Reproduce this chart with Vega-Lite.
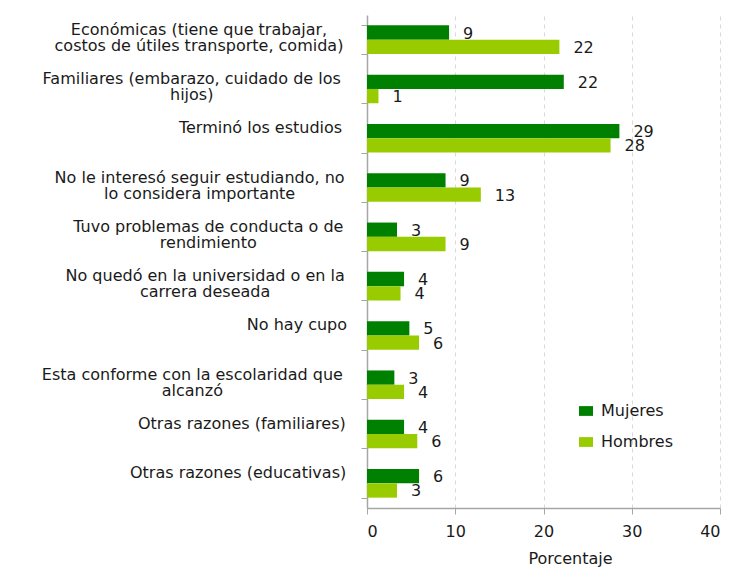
{
  "$schema": "https://vega.github.io/schema/vega-lite/v6.json",
  "width": 353,
  "height": 493,
  "autosize": {"type": "none"},
  "padding": {"left": 367, "top": 15, "right": 14, "bottom": 60},
  "background": "white",
  "config": {"view": {"stroke": null}, "font": "DejaVu Sans"},
  "params": [
    {
      "name": "lines",
      "value": {
        "Económicas (tiene que trabajar, costos de útiles transporte, comida)": ["Económicas (tiene que trabajar,", "costos de útiles transporte, comida)"],
        "Familiares (embarazo, cuidado de los hijos)": ["Familiares (embarazo, cuidado de los", "hijos)"],
        "Terminó los estudios": ["Terminó los estudios", ""],
        "No le interesó seguir estudiando, no lo considera importante": ["No le interesó seguir estudiando, no", "lo considera importante"],
        "Tuvo problemas de conducta o de rendimiento": ["Tuvo problemas de conducta o de", "rendimiento"],
        "No quedó en la universidad o en la carrera deseada": ["No quedó en la universidad o en la", "carrera deseada"],
        "No hay cupo": ["No hay cupo", ""],
        "Esta conforme con la escolaridad que alcanzó": ["Esta conforme con la escolaridad que", "alcanzó"],
        "Otras razones (familiares)": ["Otras razones (familiares)", ""],
        "Otras razones (educativas)": ["Otras razones (educativas)", ""]
      }
    }
  ],
  "data": {
    "values": [
      {"razon": "Económicas (tiene que trabajar, costos de útiles transporte, comida)", "sexo": "Mujeres", "porcentaje": 9.3},
      {"razon": "Económicas (tiene que trabajar, costos de útiles transporte, comida)", "sexo": "Hombres", "porcentaje": 21.8},
      {"razon": "Familiares (embarazo, cuidado de los hijos)", "sexo": "Mujeres", "porcentaje": 22.3},
      {"razon": "Familiares (embarazo, cuidado de los hijos)", "sexo": "Hombres", "porcentaje": 1.3},
      {"razon": "Terminó los estudios", "sexo": "Mujeres", "porcentaje": 28.6},
      {"razon": "Terminó los estudios", "sexo": "Hombres", "porcentaje": 27.6},
      {"razon": "No le interesó seguir estudiando, no lo considera importante", "sexo": "Mujeres", "porcentaje": 8.9},
      {"razon": "No le interesó seguir estudiando, no lo considera importante", "sexo": "Hombres", "porcentaje": 12.9},
      {"razon": "Tuvo problemas de conducta o de rendimiento", "sexo": "Mujeres", "porcentaje": 3.4},
      {"razon": "Tuvo problemas de conducta o de rendimiento", "sexo": "Hombres", "porcentaje": 8.9},
      {"razon": "No quedó en la universidad o en la carrera deseada", "sexo": "Mujeres", "porcentaje": 4.2},
      {"razon": "No quedó en la universidad o en la carrera deseada", "sexo": "Hombres", "porcentaje": 3.8},
      {"razon": "No hay cupo", "sexo": "Mujeres", "porcentaje": 4.8},
      {"razon": "No hay cupo", "sexo": "Hombres", "porcentaje": 5.9},
      {"razon": "Esta conforme con la escolaridad que alcanzó", "sexo": "Mujeres", "porcentaje": 3.1},
      {"razon": "Esta conforme con la escolaridad que alcanzó", "sexo": "Hombres", "porcentaje": 4.2},
      {"razon": "Otras razones (familiares)", "sexo": "Mujeres", "porcentaje": 4.2},
      {"razon": "Otras razones (familiares)", "sexo": "Hombres", "porcentaje": 5.7},
      {"razon": "Otras razones (educativas)", "sexo": "Mujeres", "porcentaje": 5.9},
      {"razon": "Otras razones (educativas)", "sexo": "Hombres", "porcentaje": 3.4}
    ]
  },
  "encoding": {
    "y": {
      "field": "razon",
      "type": "nominal",
      "sort": null,
      "scale": {"paddingInner": 0.42, "paddingOuter": 0.21},
      "axis": {
        "title": null,
        "grid": false,
        "labels": false,
        "domainColor": "#a6a6a6",
        "domainWidth": 1.5,
        "tickColor": "#a6a6a6",
        "tickSize": 6,
        "tickBand": "extent"
      }
    },
    "x": {
      "field": "porcentaje",
      "type": "quantitative",
      "scale": {"domain": [0, 40]},
      "axis": {
        "values": [0, 10, 20, 30, 40],
        "grid": true,
        "gridDash": [4, 4],
        "gridColor": "#d9d9d9",
        "domainColor": "#a6a6a6",
        "domainWidth": 1.5,
        "tickColor": "#a6a6a6",
        "tickSize": 6,
        "labelFontSize": 16,
        "labelPadding": 9,
        "labelColor": "#1a1a1a",
        "title": "Porcentaje",
        "titleFontSize": 16,
        "titleFontWeight": "normal",
        "titleColor": "#1a1a1a",
        "titleX": 203,
        "titleY": 42,
        "titleBaseline": "top"
      }
    }
  },
  "layer": [
    {
      "mark": {"type": "bar"},
      "encoding": {
        "yOffset": {"field": "sexo", "sort": ["Mujeres", "Hombres"]},
        "color": {
          "field": "sexo",
          "type": "nominal",
          "scale": {"domain": ["Mujeres", "Hombres"], "range": ["#008000", "#99cc00"]},
          "legend": {
            "title": null,
            "orient": "none",
            "legendX": 211,
            "legendY": 388,
            "padding": 0,
            "symbolType": "M-1,-0.7H1V0.7H-1Z",
            "symbolSize": 196,
            "symbolStrokeWidth": 0,
            "labelFontSize": 16,
            "labelColor": "#1a1a1a",
            "labelOffset": 7,
            "rowPadding": 15
          }
        }
      }
    },
    {
      "mark": {"type": "text", "align": "left", "baseline": "middle", "dx": 14, "dy": 1, "fontSize": 16, "color": "#1a1a1a"},
      "encoding": {
        "yOffset": {"field": "sexo", "sort": ["Mujeres", "Hombres"]},
        "text": {"field": "porcentaje", "type": "quantitative", "format": ".0f"}
      }
    },
    {
      "transform": [{"filter": "datum.sexo == 'Mujeres'"}],
      "mark": {
        "type": "text",
        "align": "center",
        "baseline": "middle",
        "fontSize": 16,
        "lineHeight": 16,
        "color": "#1a1a1a",
        "dy": -10,
        "dx": {"expr": "-20 - 0.5 * max(9.9 * length(lines[datum.razon][0]) - 4.4 * length(replace(lines[datum.razon][0], regexp('[^ iljtfr.,()]', 'g'), '')) + 5.7 * length(replace(lines[datum.razon][0], regexp('[^m]', 'g'), '')), 9.9 * length(lines[datum.razon][1]) - 4.4 * length(replace(lines[datum.razon][1], regexp('[^ iljtfr.,()]', 'g'), '')) + 5.7 * length(replace(lines[datum.razon][1], regexp('[^m]', 'g'), '')))"},
        "text": {"expr": "lines[datum.razon]"}
      },
      "encoding": {
        "x": {"datum": 0, "type": "quantitative"}
      }
    }
  ]
}
